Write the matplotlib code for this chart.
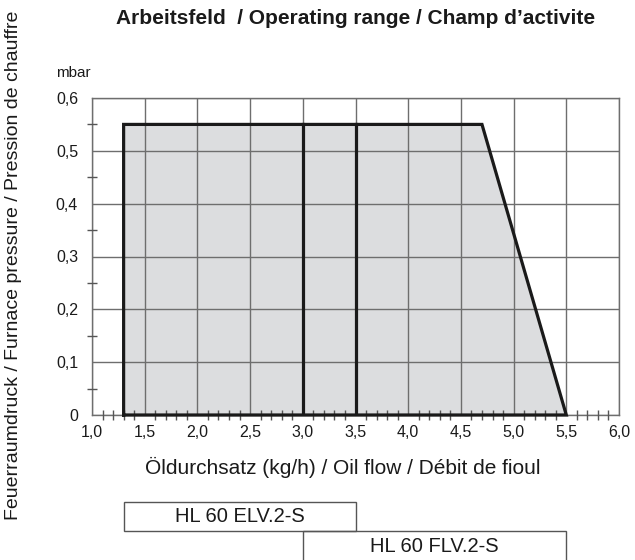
import numpy as np
import matplotlib
matplotlib.use('Agg')
import matplotlib.pyplot as plt
from matplotlib.patches import Rectangle
from matplotlib.transforms import blended_transform_factory
from matplotlib.ticker import MultipleLocator, FuncFormatter

plt.rcParams['font.family'] = ['Liberation Sans', 'DejaVu Sans']

# operating range outline (kg/h, mbar)
range_x = [1.3, 1.3, 4.7, 5.5]
range_y = [0.0, 0.55, 0.55, 0.0]
divider_x = [3.0, 3.5]

# burner models and their flow ranges
models = ['HL 60 ELV.2-S', 'HL 60 FLV.2-S']
model_from = [1.3, 3.0]
model_to = [3.5, 5.5]

fig = plt.figure(figsize=(6.35, 5.6), dpi=100)
ax = fig.add_axes([92/635, 1 - 415/560, 527/635, 317/560])

ax.fill(range_x, range_y, facecolor='#dcdddf', edgecolor='none', zorder=1)
ax.grid(True, color='#6e6e6e', linewidth=1.0, zorder=2)
ax.set_axisbelow(False)
ax.plot(range_x + [range_x[0]], range_y + [range_y[0]], color='#1a1a1a', lw=2.3,
        solid_joinstyle='miter', zorder=3, clip_on=False)
for xv in divider_x:
    ax.plot([xv, xv], [0, range_y[1]], color='#1a1a1a', lw=2.3, zorder=3)

ax.set_xlim(1.0, 6.0)
ax.set_ylim(0, 0.6)
ax.xaxis.set_major_locator(MultipleLocator(0.5))
ax.xaxis.set_minor_locator(MultipleLocator(0.1))
ax.yaxis.set_major_locator(MultipleLocator(0.1))
ax.yaxis.set_minor_locator(MultipleLocator(0.05))

ax.xaxis.set_major_formatter(FuncFormatter(lambda v, p: f'{v:.1f}'.replace('.', ',')))
ax.yaxis.set_major_formatter(FuncFormatter(lambda v, p: '0' if abs(v) < 1e-9 else f'{v:.1f}'.replace('.', ',')))

ax.tick_params(which='major', length=0, labelsize=11.5, colors='#1a1a1a')
ax.tick_params(axis='x', which='major', pad=7)
ax.tick_params(axis='y', which='major', pad=10)
ax.tick_params(which='minor', direction='inout', length=7, width=1, color='#555555')
for s in ax.spines.values():
    s.set_color('#6e6e6e')
    s.set_linewidth(1.0)

fig.text(356/635, 1 - 18/560, 'Arbeitsfeld  / Operating range / Champ d’activite',
         ha='center', va='center', fontsize=15, fontweight='bold', color='#1a1a1a')
fig.text(91/635, 1 - 73/560, 'mbar', ha='right', va='center', fontsize=11, color='#1a1a1a')
fig.text(14/635, 1 - 265/560, 'Feuerraumdruck / Furnace pressure / Pression de chauffre',
         rotation=90, ha='center', va='center', fontsize=14, color='#1a1a1a')
fig.text(343/635, 1 - 467/560, 'Öldurchsatz (kg/h) / Oil flow / Débit de fioul',
         ha='center', va='center', fontsize=15, color='#1a1a1a')

# model ranges below the chart
tr = blended_transform_factory(ax.transData, fig.transFigure)
box_top = [1 - 502/560, 1 - 531/560]
box_h = [29/560, 35/560]
for name, x0, x1, yt, h in zip(models, model_from, model_to, box_top, box_h):
    ax.add_patch(Rectangle((x0, yt - h), x1 - x0, h, transform=tr, fill=False,
                           edgecolor='#555555', lw=1.0, clip_on=False))
    ax.text((x0 + x1) / 2, yt - 15/560, name, transform=tr, ha='center', va='center',
            fontsize=14.5, color='#1a1a1a', clip_on=False)

fig.savefig('out.png', dpi=100)
